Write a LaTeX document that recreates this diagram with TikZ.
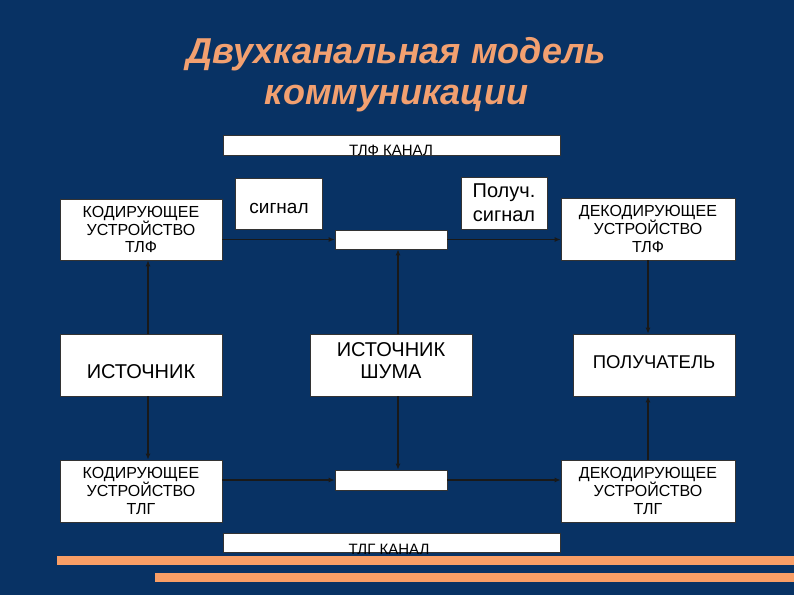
\documentclass[tikz,border=0pt]{standalone}
\usepackage{fontspec}
\setmainfont{Liberation Sans}
\usetikzlibrary{arrows.meta}
\definecolor{bg}{RGB}{8,50,100}
\definecolor{ttl}{RGB}{242,160,112}
\definecolor{strp}{RGB}{248,158,102}
\tikzset{
  box/.style={draw=black!80, line width=0.6pt, fill=white, rectangle, inner sep=0pt, align=center, font=\fontsize{16}{17.8}\selectfont},
  big/.style={font=\fontsize{19}{23}\selectfont},
  bartext/.style={font=\fontsize{15}{16}\selectfont, inner sep=0pt, anchor=base},
  conn/.style={line width=1.3pt, draw=black!90, -{Latex[length=6pt,width=5pt]}},
  plain/.style={inner sep=0pt, align=center},
  title/.style={font=\fontsize{36}{42}\bfseries\itshape\selectfont, anchor=base, inner sep=0pt}
}
\begin{document}
\begin{tikzpicture}[x=1pt,y=-1pt]
\fill[bg] (0,0) rectangle (794,595);
\useasboundingbox (0,0) rectangle (794,595);
% title
\node[title, text=ttl] (t1) at (396.5,63) {Двухканальная модель};
\node[title, text=ttl] (t2) at (396.5,104) {коммуникации};
% stripes
\fill[strp] (57,556) rectangle (794,565);
\fill[strp] (155,573) rectangle (794,582);
% bars
\node[box, minimum width=337pt, minimum height=20pt] (tlf) at (391.5,145) {};
\node[bartext] at (391,155.5) {ТЛФ КАНАЛ};
\node[box, minimum width=337pt, minimum height=19pt] (tlg) at (391.5,542.5) {};
\node[bartext] at (389,554) {ТЛГ КАНАЛ};
% boxes
\node[box, minimum width=162pt, minimum height=61pt] (ctf) at (141,229.5) {КОДИРУЮЩЕЕ\\УСТРОЙСТВО\\ТЛФ};
\node[box, minimum width=87pt, minimum height=51pt] (sig) at (278.5,203.5) {};
\node[plain, big] at (279,208) {сигнал};
\node[box, minimum width=112pt, minimum height=19pt] (stop) at (391,239.5) {};
\node[box, font=\fontsize{20}{24}\selectfont, minimum width=86pt, minimum height=52pt] (psig) at (504,203) {Получ.\\сигнал};
\node[box, minimum width=174pt, minimum height=62pt] (dtf) at (648,229) {ДЕКОДИРУЮЩЕЕ\\УСТРОЙСТВО\\ТЛФ};
\node[box, minimum width=162pt, minimum height=62pt] (src) at (141,365) {};
\node[plain, font=\fontsize{20}{24}\selectfont] at (141,372) {ИСТОЧНИК};
\node[box, minimum width=162pt, minimum height=62pt] (noise) at (391,365) {};
\node[plain, font=\fontsize{20}{22}\selectfont] at (391,361) {ИСТОЧНИК\\ШУМА};
\node[box, minimum width=162pt, minimum height=62pt] (rcv) at (654,365) {};
\node[plain, font=\fontsize{18.5}{22}\selectfont] at (654,362) {ПОЛУЧАТЕЛЬ};
\node[box, minimum width=162pt, minimum height=62pt] (ctg) at (141,491) {КОДИРУЮЩЕЕ\\УСТРОЙСТВО\\ТЛГ};
\node[box, minimum width=112pt, minimum height=20pt] (sbot) at (391,480) {};
\node[box, minimum width=174pt, minimum height=62pt] (dtg) at (648,491) {ДЕКОДИРУЮЩЕЕ\\УСТРОЙСТВО\\ТЛГ};
% horizontal connectors
\draw[conn] (ctf.east |- stop.west) -- (stop.west);
\draw[conn] (stop.east) -- (stop.east -| dtf.west);
\draw[conn] (ctg.east |- sbot.west) -- (sbot.west);
\draw[conn] (sbot.east) -- (sbot.east -| dtg.west);
% vertical connectors
\draw[conn] ([xshift=7pt]src.north) -- ([xshift=7pt]ctf.south);
\draw[conn] ([xshift=7pt]src.south) -- ([xshift=7pt]ctg.north);
\draw[conn] ([xshift=7pt]noise.north) -- ([xshift=7pt]stop.south);
\draw[conn] ([xshift=7pt]noise.south) -- ([xshift=7pt]sbot.north);
\draw[conn] (dtf.south) -- (dtf.south |- rcv.north);
\draw[conn] (dtg.north) -- (dtg.north |- rcv.south);
\end{tikzpicture}
\end{document}
